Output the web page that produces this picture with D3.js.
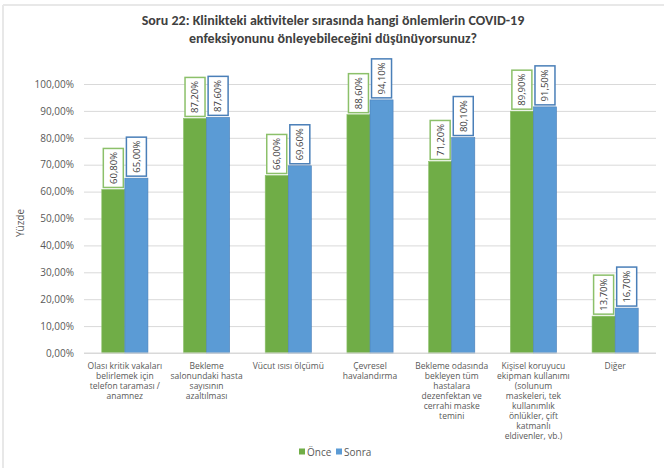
<!DOCTYPE html>
<html>
<head>
<meta charset="utf-8">
<script src="https://cdn.jsdelivr.net/npm/d3@7"></script>
<style>
  body { margin: 0; background: #fff; }
  svg { display: block; font-family: Carlito, Calibri, "Open Sans", "Noto Sans", sans-serif; }
</style>
</head>
<body>
<svg></svg>
<script>
// data
const categories = [
  ["Olası kritik vakaları", "belirlemek için", "telefon taraması /", "anamnez"],
  ["Bekleme", "salonundaki hasta", "sayısının", "azaltılması"],
  ["Vücut ısısı ölçümü"],
  ["Çevresel", "havalandırma"],
  ["Bekleme odasında", "bekleyen tüm", "hastalara", "dezenfektan ve", "cerrahi maske", "temini"],
  ["Kişisel koruyucu", "ekipman kullanımı", "(solunum", "maskeleri, tek", "kullanımlık", "önlükler, çift", "katmanlı", "eldivenler, vb.)"],
  ["Diğer"]
];
const once = [60.8, 87.2, 66.0, 88.6, 71.2, 89.9, 13.7];
const sonra = [65.0, 87.6, 69.6, 94.1, 80.1, 91.5, 16.7];
const seriesNames = ["Önce", "Sonra"];
const yTicks = [0, 10, 20, 30, 40, 50, 60, 70, 80, 90, 100];

const colors = ["#70ad47", "#5b9bd5"];
const borders = ["#8cc06a", "#4a7fb8"];
const sans = "'Open Sans', 'Noto Sans', sans-serif";

const width = 664, height = 468;
const svg = d3.select("svg").attr("width", width).attr("height", height);

// frame
svg.append("line").attr("x1", 3).attr("x2", width).attr("y1", 5).attr("y2", 5)
  .attr("stroke", "#e8e8e8").attr("stroke-width", 2);
svg.append("line").attr("x1", 3).attr("x2", 3).attr("y1", 5).attr("y2", height)
  .attr("stroke", "#e8e8e8").attr("stroke-width", 2);

// title
const title = svg.append("text")
  .attr("text-anchor", "middle")
  .attr("font-size", "14px")
  .attr("font-weight", "bold")
  .attr("fill", "#404040");
title.append("tspan").attr("x", 333).attr("y", 25)
  .text("Soru 22: Klinikteki aktiviteler sırasında hangi önlemlerin COVID-19");
title.append("tspan").attr("x", 333).attr("y", 43)
  .text("enfeksiyonunu önleyebileceğini düşünüyorsunuz?");

const plot = { left: 84, right: 656, top: 84, bottom: 353 };

const x = d3.scaleBand()
  .domain(d3.range(categories.length))
  .range([plot.left, plot.right])
  .paddingInner(0.435)
  .paddingOuter(0.2175);

const x1 = d3.scaleBand().domain([0, 1]).range([0, x.bandwidth()]);

const y = d3.scaleLinear().domain([0, 100]).range([plot.bottom, plot.top]);

const fmt = v => d3.format(".2f")(v).replace(".", ",") + "%";

// grid + y axis
const yAxis = svg.append("g")
  .attr("transform", `translate(${plot.left},0)`)
  .call(d3.axisLeft(y).tickValues(yTicks).tickSize(-(plot.right - plot.left)).tickPadding(10).tickFormat(fmt));
yAxis.select(".domain").remove();
yAxis.selectAll(".tick line").attr("stroke", "#d9d9d9");
yAxis.selectAll(".tick text")
  .attr("font-size", "10px")
  .attr("fill", "#595959")
  .attr("font-family", sans);

svg.append("text")
  .attr("transform", "translate(24,223) rotate(-90)")
  .attr("text-anchor", "middle")
  .attr("font-size", "10px")
  .attr("font-family", sans)
  .attr("fill", "#595959")
  .text("Yüzde");

// bars
const series = [once, sonra];
series.forEach((vals, s) => {
  const g = svg.append("g");
  g.selectAll("rect")
    .data(vals)
    .join("rect")
    .attr("x", (d, i) => x(i) + x1(s))
    .attr("y", d => y(d))
    .attr("width", x1.bandwidth())
    .attr("height", d => y(0) - y(d))
    .attr("fill", colors[s])
    .attr("stroke", borders[s])
    .attr("stroke-width", 0.6);

  // data labels
  const lbl = g.selectAll("g.lbl")
    .data(vals)
    .join("g")
    .attr("class", "lbl")
    .attr("transform", (d, i) => `translate(${x(i) + x1(s) + x1.bandwidth() / 2},${y(d) - 2}) rotate(-90)`);
  lbl.append("rect")
    .attr("x", 0)
    .attr("y", -10)
    .attr("width", 39)
    .attr("height", 20)
    .attr("fill", "#fff")
    .attr("stroke", borders[s])
    .attr("stroke-width", 1.5);
  lbl.append("text")
    .attr("x", 19.5)
    .attr("y", 0)
    .attr("dy", "0.35em")
    .attr("text-anchor", "middle")
    .attr("font-size", "9.5px")
    .attr("font-family", sans)
    .attr("fill", "#404040")
    .text(d => fmt(d));
});

// x axis line
svg.append("line")
  .attr("x1", plot.left).attr("x2", plot.right)
  .attr("y1", y(0)).attr("y2", y(0))
  .attr("stroke", "#d9d9d9");

// category labels
const cat = svg.append("g");
categories.forEach((lines, i) => {
  const t = cat.append("text")
    .attr("text-anchor", "middle")
    .attr("font-size", "8.5px")
    .attr("font-family", sans)
    .attr("fill", "#595959");
  lines.forEach((ln, j) => {
    t.append("tspan")
      .attr("x", x(i) + x.bandwidth() / 2)
      .attr("y", 369 + j * 10)
      .text(ln);
  });
});

// legend
const legend = svg.append("g").attr("transform", "translate(299,452)");
const lx = [0, 37];
seriesNames.forEach((n, s) => {
  legend.append("rect")
    .attr("x", lx[s]).attr("y", -3.5)
    .attr("width", 6).attr("height", 6)
    .attr("fill", colors[s]);
  legend.append("text")
    .attr("x", lx[s] + 8).attr("y", 0)
    .attr("dy", "0.35em")
    .attr("font-size", "10px")
    .attr("font-family", sans)
    .attr("fill", "#595959")
    .text(n);
});
</script>
</body>
</html>
